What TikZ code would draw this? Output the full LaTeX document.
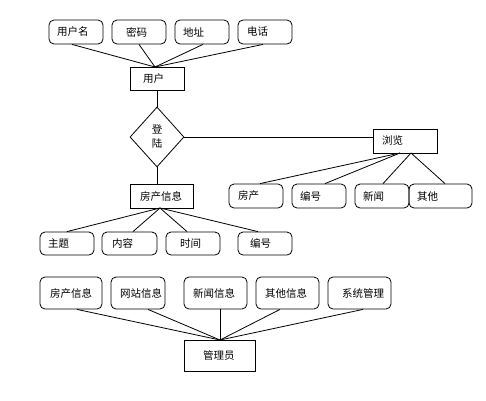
\documentclass[tikz,border=0pt]{standalone}
\usepackage{fontspec}
\setmainfont{Noto Sans CJK SC}
\usetikzlibrary{shapes.geometric}
\newcommand\padt[2]{\hspace*{#1pt}#2}
\begin{document}
\begin{tikzpicture}[x=1pt,y=-1pt,
  every node/.style={font=\fontsize{10.5pt}{12pt}\selectfont},
  rb/.style n args={2}{draw, rounded corners=5pt, inner xsep=0pt, inner ysep=0pt, align=left, text width=#1pt, minimum height=#2pt, line width=0.8pt},
  sb/.style n args={2}{draw, inner xsep=0pt, inner ysep=0pt, align=left, text width=#1pt, minimum height=#2pt, line width=0.8pt},
  ln/.style={line width=0.8pt}]
\useasboundingbox (0,0) rectangle (486,400);
\fill[white] (0,0) rectangle (486,400);
% top attributes
\node[rb={54}{24}] (u1) at (76,32) {\padt{8}{用户名}};
\node[rb={54}{24}] (u2) at (139,32) {\padt{14}{密码}};
\node[rb={54}{24}] (u3) at (202,32) {\padt{8}{地址}};
\node[rb={54}{24}] (u4) at (265,32) {\padt{9}{电话}};
\node[sb={54}{23}] (user) at (157,78.5) {\padt{13}{用户}};
\coordinate (uT) at (155,67);
\foreach \n/\x in {u1/72,u2/139,u3/203,u4/263}
  \draw[ln] (\n.south -| \x,0) -- (uT);
% diamond
\node[draw, diamond, minimum width=54pt, minimum height=60pt, inner sep=0pt, align=center, line width=0.8pt] (d) at (157,137) {登\\[2pt]陆};
\draw[ln] (user.south) -- (d.north);
% browse
\node[sb={64}{24}] (br) at (405,141) {\padt{9}{浏览}};
\draw[ln] (d.east) -- (br.west |- d.east);
\node[rb={54}{24}] (r1) at (256,196) {\padt{9}{房产}};
\node[rb={54}{24}] (r2) at (319,196) {\padt{8}{编号}};
\node[rb={54}{24}] (r3) at (382,196) {\padt{8}{新闻}};
\node[rb={63}{24}] (r4) at (440.5,196) {\padt{8}{其他}};
\coordinate (bA) at (400,153);
\coordinate (bB) at (411,153);
\draw[ln] (bA) -- (r1.north -| 260,0);
\draw[ln] (bA) -- (r2.north -| 325,0);
\draw[ln] (bB) -- (r3.north -| 383,0);
\draw[ln] (bB) -- (r4.north -| 445,0);
% house info
\node[sb={63}{24}] (h) at (161.5,196) {\padt{10}{房产信息}};
\draw[ln] (d.south) -- (h.north -| d.south);
\node[rb={54}{23}] (a1) at (67,243.5) {\padt{8}{主题}};
\node[rb={55}{23}] (a2) at (129.5,243.5) {\padt{10}{内容}};
\node[rb={54}{23}] (a3) at (193,243.5) {\padt{14}{时间}};
\node[rb={54}{23}] (a4) at (265,243.5) {\padt{12}{编号}};
\coordinate (hB) at (160,208);
\foreach \n/\x in {a1/67,a2/133,a3/187,a4/258}
  \draw[ln] (hB) -- (\n.north -| \x,0);
% admin
\node[rb={62}{32}] (m1) at (71,293) {\padt{10}{房产信息}};
\node[rb={54}{32}] (m2) at (138,293) {\padt{9}{网站信息}};
\node[rb={63}{32}] (m3) at (215.5,293) {\padt{9}{新闻信息}};
\node[rb={63}{32}] (m4) at (287.5,293) {\padt{9}{其他信息}};
\node[rb={63}{32}] (m5) at (359.5,293) {\padt{14}{系统管理}};
\node[sb={71}{31}] (adm) at (219.5,355.5) {\padt{19}{管理员}};
\coordinate (aT) at (220,340);
\foreach \n/\x in {m1/77,m2/148,m3/220,m4/280,m5/363}
  \draw[ln] (\n.south -| \x,0) -- (aT);
\end{tikzpicture}
\end{document}
